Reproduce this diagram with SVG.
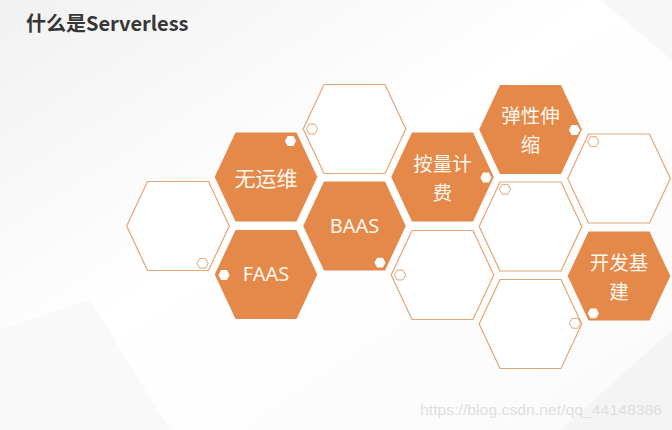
<svg xmlns="http://www.w3.org/2000/svg" width="672" height="430" viewBox="0 0 672 430">
<style>
.fill{fill:#E5894A;stroke:none}
.line{fill:#ffffff;stroke:#E3A676;stroke-width:1.2}
.dw{fill:#ffffff;stroke:none}
.do{fill:#ffffff;stroke:#E3A676;stroke-width:1}
.lbl{font-family:"Noto Sans CJK SC","Liberation Sans",sans-serif;font-size:21px;fill:#FFF8EE;text-anchor:middle;dominant-baseline:central}
.lb2{font-family:"Noto Sans CJK SC","Liberation Sans",sans-serif;font-size:19.5px;fill:#FFF8EE;text-anchor:middle;dominant-baseline:central}
.lat{font-family:"Noto Sans","Liberation Sans",sans-serif;font-size:20px;fill:#FFF8EE;text-anchor:middle;dominant-baseline:central}
.title{font-family:"Noto Sans CJK SC","Liberation Sans",sans-serif;font-weight:bold;font-size:20px;fill:#363636}
.wm{font-family:"Liberation Sans",sans-serif;font-size:15px;fill:#dedede}
</style>
<defs>
<linearGradient id="bg" x1="0" y1="0" x2="1" y2="1">
<stop offset="0" stop-color="#f1f1f1"/>
<stop offset="0.45" stop-color="#ffffff"/>
<stop offset="1" stop-color="#fafafa"/>
</linearGradient>
<polygon id="hx" points="-51.3,0 -30.5,-44.5 30.5,-44.5 51.3,0 30.5,44.5 -30.5,44.5"/>
<polygon id="sh" points="-5.6,0 -2.9,-4.9 2.9,-4.9 5.6,0 2.9,4.9 -2.9,4.9"/>
</defs>
<rect x="0" y="0" width="672" height="430" fill="url(#bg)"/>
<polygon points="0,330 90,300 170,430 0,430" fill="#f5f5f5" opacity="0.6"/>
<polygon points="560,430 672,330 672,430" fill="#f3f3f3" opacity="0.8"/>
<polygon points="600,0 672,0 672,60" fill="#f5f5f5" opacity="0.8"/>

<text class="title" x="26" y="31">什么是Serverless</text>

<g id="hex-outline-left">
<use href="#hx" class="line" x="178" y="226"/>
<use href="#sh" class="do" x="202.6" y="263.3"/>
</g>
<g id="hex-wuyunwei">
<use href="#hx" class="fill" x="266" y="177"/>
<use href="#sh" class="dw" x="290.5" y="141"/>
<text class="lbl" x="266" y="176.5">无运维</text>
</g>
<g id="hex-faas">
<use href="#hx" class="fill" x="266" y="274.5"/>
<use href="#sh" class="dw" x="224" y="275"/>
<text class="lat" x="266" y="273">FAAS</text>
</g>
<g id="hex-outline-top">
<use href="#hx" class="line" x="354.5" y="129"/>
<use href="#sh" class="do" x="312" y="129"/>
</g>
<g id="hex-baas">
<use href="#hx" class="fill" x="354.5" y="226"/>
<use href="#sh" class="dw" x="380" y="262.7"/>
<text class="lat" x="354.5" y="225">BAAS</text>
</g>
<g id="hex-anliangjifei">
<use href="#hx" class="fill" x="442.5" y="177"/>
<use href="#sh" class="dw" x="486" y="177.5"/>
<text class="lb2" x="442.5" y="162">按量计<tspan x="442.5" dy="28.5">费</tspan></text>
</g>
<g id="hex-outline-mid-bottom">
<use href="#hx" class="line" x="442.5" y="275"/>
<use href="#sh" class="do" x="400" y="275"/>
</g>
<g id="hex-tanxingshensuo">
<use href="#hx" class="fill" x="530.5" y="129.5"/>
<use href="#sh" class="dw" x="574.5" y="130"/>
<text class="lb2" x="530.5" y="114">弹性伸<tspan x="530.5" dy="28.5">缩</tspan></text>
</g>
<g id="hex-outline-center">
<use href="#hx" class="line" x="530.5" y="226.5"/>
<use href="#sh" class="do" x="505" y="189.3"/>
</g>
<g id="hex-outline-bottom">
<use href="#hx" class="line" x="530.5" y="324"/>
<use href="#sh" class="do" x="575" y="323.3"/>
</g>
<g id="hex-outline-right">
<use href="#hx" class="line" x="619" y="178.5"/>
<use href="#sh" class="do" x="593.3" y="141.7"/>
</g>
<g id="hex-kaifajijian">
<use href="#hx" class="fill" x="619" y="276"/>
<use href="#sh" class="dw" x="593.3" y="313.3"/>
<text class="lb2" x="619" y="261">开发基<tspan x="619" dy="28.5">建</tspan></text>
</g>
<g id="connectors"></g>

<text class="wm" x="420" y="415" textLength="242" lengthAdjust="spacingAndGlyphs">https://blog.csdn.net/qq_44148386</text>
</svg>
